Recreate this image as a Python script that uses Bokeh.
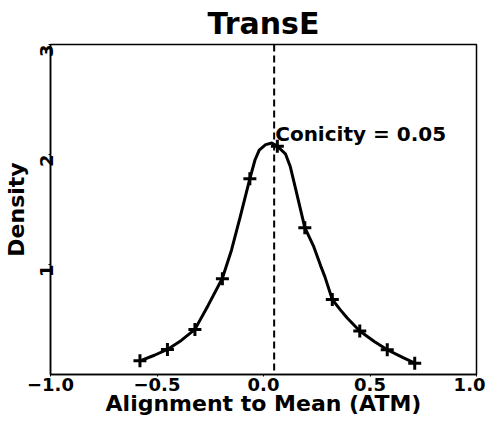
import numpy as np
from bokeh.plotting import figure
from bokeh.models import Range1d, FixedTicker, Span, Label
from bokeh.embed import file_html
from bokeh.resources import INLINE

# Density curve
curve_x = [-0.580, -0.512, -0.451, -0.386, -0.322, -0.260, -0.193, -0.150, -0.110,
           -0.064, -0.040, -0.020, 0.010, 0.039, 0.065, 0.103, 0.126, 0.150, 0.194,
           0.236, 0.268, 0.288, 0.323, 0.360, 0.393, 0.452, 0.520, 0.581, 0.653, 0.710]
curve_y = [0.124, 0.175, 0.228, 0.310, 0.410, 0.628, 0.875, 1.132, 1.428,
           1.780, 1.950, 2.040, 2.090, 2.105, 2.075, 2.006, 1.888, 1.695, 1.335,
           1.162, 0.990, 0.890, 0.682, 0.590, 0.513, 0.395, 0.300, 0.225, 0.155, 0.103]

# Plus-marker sample points
marker_x = [-0.580, -0.451, -0.322, -0.193, -0.064, 0.065, 0.194, 0.323, 0.452, 0.581, 0.710]
marker_y = [0.124, 0.228, 0.410, 0.870, 1.780, 2.075, 1.335, 0.682, 0.395, 0.225, 0.103]

mean_line = 0.05
annotation = "Conicity = 0.05"

x_ticks = [-1.0, -0.5, 0.0, 0.5, 1.0]
x_tick_labels = ["\u22121.0", "\u22120.5", "0.0", "0.5", "1.0"]
y_ticks = [1, 2, 3]
y_tick_labels = ["1", "2", "3"]

FONT = "DejaVu Sans"

p = figure(width=485, height=418, output_backend="svg", toolbar_location=None,
           x_range=Range1d(-1, 1), y_range=Range1d(0, 3),
           title="TransE", min_border_left=10, min_border_right=9,
           min_border_top=10, min_border_bottom=10)

p.title.text_font = FONT
p.title.text_font_style = "bold"
p.title.text_font_size = "30px"
p.title.text_color = "black"
p.title.align = "center"
p.title.offset = 0
p.title.standoff = 7

p.grid.visible = False
p.outline_line_color = "black"
p.outline_line_width = 1.5
p.background_fill_color = "white"
p.border_fill_color = "white"

for ax in (p.xaxis[0], p.yaxis[0]):
    ax.axis_line_color = "black"
    ax.axis_line_width = 1.5
    ax.major_tick_out = 2
    ax.major_tick_in = 0
    ax.minor_tick_line_color = None
    ax.major_label_text_font = FONT
    ax.major_label_text_font_style = "bold"
    ax.major_label_text_font_size = "18px"
    ax.major_label_text_color = "black"
    ax.axis_label_text_font = FONT
    ax.axis_label_text_font_style = "bold"
    ax.axis_label_text_font_size = "22px"
    ax.axis_label_text_color = "black"

p.xaxis.ticker = FixedTicker(ticks=x_ticks)
p.xaxis.major_label_overrides = {t: l for t, l in zip(x_ticks, x_tick_labels)}
p.xaxis.axis_label = "Alignment to Mean (ATM)"
p.xaxis.major_label_standoff = 1
p.xaxis.axis_label_standoff = -3

p.yaxis.ticker = FixedTicker(ticks=y_ticks)
p.yaxis.major_label_overrides = {t: l for t, l in zip(y_ticks, y_tick_labels)}
p.yaxis.axis_label = "Density"
p.yaxis.major_label_orientation = np.pi / 2
p.yaxis.major_label_standoff = 2
p.yaxis.axis_label_standoff = 2

p.add_layout(Span(location=mean_line, dimension="height", line_color="black",
                  line_width=2, line_dash="7 4"))

p.line(curve_x, curve_y, line_color="black", line_width=3)
p.scatter(marker_x, marker_y, marker="cross", size=13, line_color="black", line_width=3)

p.add_layout(Label(x=mean_line + 0.005, y=2.19, text=annotation, text_font=FONT,
                   text_font_style="bold", text_font_size="20px", text_color="black",
                   text_baseline="alphabetic"))

open("out.html", "w").write(file_html(p, INLINE))
